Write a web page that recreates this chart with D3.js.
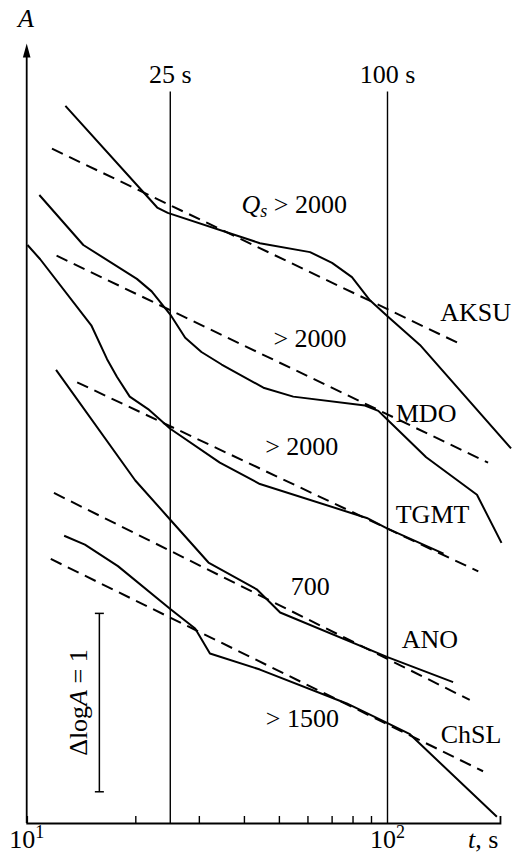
<!DOCTYPE html>
<html>
<head>
<meta charset="utf-8">
<script src="https://cdn.jsdelivr.net/npm/d3@7"></script>
<style>
  html, body { margin: 0; padding: 0; background: #fff; }
  svg { display: block; }
</style>
</head>
<body>
<svg id="chart" width="513" height="854" font-family="'Liberation Serif', 'Times New Roman', Times, serif"></svg>
<script>
// Observed amplitude decay, log A versus lapse time t (s), per station
const stations = ["AKSU", "MDO", "TGMT", "ANO", "ChSL"];
const qLabels = ["> 2000", "> 2000", "> 2000", "700", "> 1500"];

const aksuT    = [12.8, 23.0, 24.6, 44.3, 61.0, 70.2, 79.7, 89.4, 100, 123, 220];
const aksuLogA = [4.02, 3.45, 3.42, 3.25, 3.20, 3.14, 3.06, 2.93, 2.84, 2.68, 2.10];
const mdoT     = [10.84, 14.35, 20.2, 22.2, 25.0, 27.5, 30.5, 34.7, 45.3, 54.8, 86.6, 94.3, 100, 128, 177, 207];
const mdoLogA  = [3.52, 3.24, 3.05, 2.98, 2.85, 2.72, 2.64, 2.57, 2.44, 2.39, 2.34, 2.31, 2.26, 2.05, 1.84, 1.57];
const tgmtT    = [10.05, 10.9, 15.1, 16.7, 17.8, 19.3, 21.7, 25.0, 34.3, 44.3, 87.6, 100, 143];
const tgmtLogA = [3.24, 3.16, 2.79, 2.60, 2.50, 2.39, 2.32, 2.21, 2.02, 1.90, 1.71, 1.65, 1.51];
const anoT     = [12.06, 20.0, 25.0, 31.9, 43.4, 50.4, 100, 152];
const anoLogA  = [2.54, 1.92, 1.70, 1.46, 1.31, 1.18, 0.93, 0.79];
const chslT    = [12.7, 14.5, 17.9, 25.0, 29.3, 32.2, 44.3, 77.1, 100, 115, 201];
const chslLogA = [1.61, 1.56, 1.44, 1.20, 1.09, 0.95, 0.86, 0.67, 0.56, 0.50, 0.035];

// Model decay for the quoted Q_s (straight lines in log-log)
const aksuFitT = [11.75, 161], aksuFitLogA = [3.78, 2.68];
const mdoFitT  = [12.1, 190],  mdoFitLogA  = [3.18, 2.02];
const tgmtFitT = [13.8, 178.5], tgmtFitLogA = [2.47, 1.41];
const anoFitT  = [11.9, 169],  anoFitLogA  = [1.85, 0.69];
const chslFitT = [11.66, 184], chslFitLogA = [1.48, 0.29];

// Reference lapse times and axis extent
const markerTimes = [25, 100];
const markerLabels = ["25 s", "100 s"];
const markerTopLogA = 4.1;
const tMin = 10, tMax = 205;
const minorTicks = [20, 30, 40, 50, 60, 70, 80, 90];
const logAxisTop = 4.37;

// Scale bar for one unit of log A
const barT = 15.9, barLogA = [0.175, 1.175];

// Label anchors (t, log A)
const stationLabelT    = [140, 105.4, 105.4, 109.5, 140.4];
const stationLabelLogA = [2.814, 2.249, 1.68, 0.983, 0.45];
const qLabelT    = [39.4, 48.3, 45.8, 53.9, 46.0];
const qLabelLogA = [3.421, 2.67, 2.063, 1.278, 0.54];

const observed = [
  [aksuT, aksuLogA], [mdoT, mdoLogA], [tgmtT, tgmtLogA], [anoT, anoLogA], [chslT, chslLogA]
];
const fitted = [
  [aksuFitT, aksuFitLogA], [mdoFitT, mdoFitLogA], [tgmtFitT, tgmtFitLogA],
  [anoFitT, anoFitLogA], [chslFitT, chslFitLogA]
];

const FONT = "'Liberation Serif', 'Times New Roman', Times, serif";
const svg = d3.select("#chart");
const x = d3.scaleLog().domain([10, 100]).range([26.7, 387.5]);
const y = d3.scaleLinear().domain([0, 1]).range([823, 644.6]);

const line = d3.line().x(d => x(d[0])).y(d => y(d[1]));
const zipPts = (ts, vs) => ts.map((t, i) => [t, vs[i]]);
const label = (sel) => sel.append("text").attr("font-family", FONT).attr("fill", "#000");

// Reference lapse-time verticals
markerTimes.forEach((t, i) => {
  svg.append("line")
    .attr("x1", x(t)).attr("x2", x(t))
    .attr("y1", y(0)).attr("y2", y(markerTopLogA))
    .attr("stroke", "#000").attr("stroke-width", 1.4);
  label(svg)
    .attr("x", x(t)).attr("y", 83)
    .attr("text-anchor", "middle").attr("font-size", 26)
    .text(markerLabels[i]);
});

// Bottom axis with inward minor ticks
const xScaleAxis = x.copy().domain([tMin, tMax]).range([x(tMin), x(tMax)]);
const xAxis = d3.axisBottom(xScaleAxis)
  .tickValues(minorTicks)
  .tickSize(-7)
  .tickSizeOuter(-7)
  .tickFormat("");
const gx = svg.append("g")
  .attr("transform", `translate(0,${y(0)})`)
  .call(xAxis);
gx.select(".domain").attr("stroke", "#000").attr("stroke-width", 1.8);
gx.selectAll(".tick line").attr("stroke", "#000").attr("stroke-width", 1.4);

// Vertical log A axis with arrow head
svg.append("line")
  .attr("x1", x(tMin)).attr("x2", x(tMin))
  .attr("y1", y(0)).attr("y2", y(logAxisTop) + 10)
  .attr("stroke", "#000").attr("stroke-width", 1.8);
svg.append("path")
  .attr("d", `M${x(tMin)},${y(logAxisTop)} L${x(tMin) - 3.8},${y(logAxisTop) + 14} L${x(tMin) + 3.8},${y(logAxisTop) + 14} Z`)
  .attr("fill", "#000");
label(svg)
  .attr("x", 18).attr("y", 27)
  .attr("font-size", 26).attr("font-style", "italic")
  .text("A");

// Decade labels
function decadeLabel(t, exp) {
  const tx = label(svg)
    .attr("x", x(t)).attr("y", 848)
    .attr("text-anchor", "middle").attr("font-size", 26);
  tx.append("tspan").text("10");
  tx.append("tspan").attr("font-size", 18).attr("dy", -10).text(exp);
}
decadeLabel(10, "1");
decadeLabel(100, "2");
const tl = label(svg).attr("x", 468).attr("y", 848).attr("font-size", 26);
tl.append("tspan").attr("font-style", "italic").text("t");
tl.append("tspan").text(", s");

// Model lines (dashed)
fitted.forEach(([ts, vs]) => {
  svg.append("path")
    .attr("d", line(zipPts(ts, vs)))
    .attr("fill", "none").attr("stroke", "#000")
    .attr("stroke-width", 2).attr("stroke-dasharray", "12,7");
});

// Observed curves
observed.forEach(([ts, vs]) => {
  svg.append("path")
    .attr("d", line(zipPts(ts, vs)))
    .attr("fill", "none").attr("stroke", "#000")
    .attr("stroke-width", 2).attr("stroke-linejoin", "round");
});

// Station names
stations.forEach((s, i) => {
  label(svg)
    .attr("x", x(stationLabelT[i])).attr("y", y(stationLabelLogA[i]))
    .attr("font-size", 26).text(s);
});

// Q_s labels; the first one carries the symbol
qLabels.forEach((q, i) => {
  const tx = label(svg)
    .attr("x", x(qLabelT[i])).attr("y", y(qLabelLogA[i]))
    .attr("font-size", 26);
  if (i === 0) {
    tx.append("tspan").attr("font-style", "italic").text("Q");
    tx.append("tspan").attr("font-style", "italic").attr("font-size", 18).attr("dy", 4).text("s");
    tx.append("tspan").attr("dy", -4).text(" " + q);
  } else {
    tx.text(q);
  }
});

// Scale bar: Δlog A = 1
const bx = x(barT);
svg.append("line")
  .attr("x1", bx).attr("x2", bx)
  .attr("y1", y(barLogA[0])).attr("y2", y(barLogA[1]))
  .attr("stroke", "#000").attr("stroke-width", 1.5);
barLogA.forEach(v => {
  svg.append("line")
    .attr("x1", bx - 4.5).attr("x2", bx + 4.5)
    .attr("y1", y(v)).attr("y2", y(v))
    .attr("stroke", "#000").attr("stroke-width", 1.5);
});
const bl = label(svg)
  .attr("transform", `translate(86.5,${(y(barLogA[0]) + y(barLogA[1])) / 2}) rotate(-90)`)
  .attr("text-anchor", "middle").attr("font-size", 26);
bl.append("tspan").text("Δlog");
bl.append("tspan").attr("font-style", "italic").text("A");
bl.append("tspan").text(" = 1");
</script>
</body>
</html>
